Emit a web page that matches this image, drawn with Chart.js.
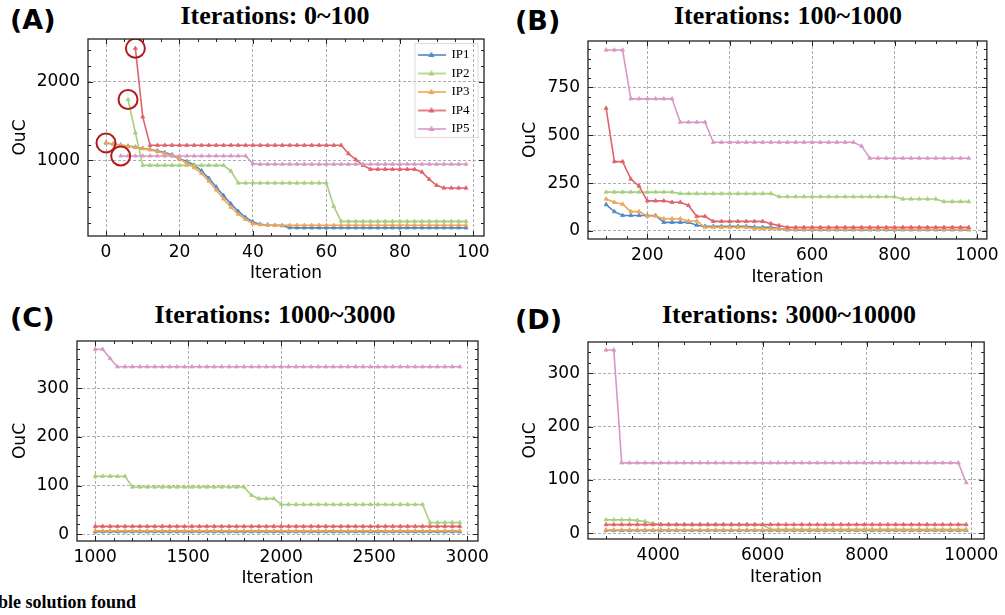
<!doctype html>
<html lang="en">
<head>
<meta charset="utf-8">
<title>OuC over iterations</title>
<script src="https://cdn.jsdelivr.net/npm/chart.js@4.4.0/dist/chart.umd.min.js"></script>
<style>
  body { margin: 0; background: #fff; width: 1005px; height: 615px; position: relative; overflow: hidden; }
  canvas { position: absolute; }
  .lbl { position: absolute; font-family: "DejaVu Sans"; font-weight: bold; font-size: 27px; line-height: 1; }
  .ttl { position: absolute; width: 400px; text-align: center; font-family: "Liberation Serif"; font-weight: bold;
         font-size: 26px; line-height: 1; white-space: nowrap; }
  .note { position: absolute; left: -2px; top: 593px; font-family: "Liberation Serif"; font-weight: bold;
          font-size: 18px; line-height: 1; white-space: nowrap; }
</style>
</head>
<body>
<div class="lbl" style="left:10px;top:6px">(A)</div>
<div class="lbl" style="left:515px;top:7px">(B)</div>
<div class="lbl" style="left:10px;top:304px">(C)</div>
<div class="lbl" style="left:515px;top:306px">(D)</div>
<div class="ttl" style="left:75px;top:3px">Iterations: 0~100</div>
<div class="ttl" style="left:588px;top:3px">Iterations: 100~1000</div>
<div class="ttl" style="left:75px;top:302px">Iterations: 1000~3000</div>
<div class="ttl" style="left:589px;top:302px">Iterations: 3000~10000</div>
<div class="note">ble solution found</div>

<canvas id="chartA" width="500" height="290" style="left:0;top:0"></canvas>
<canvas id="chartB" width="505" height="290" style="left:500px;top:0"></canvas>
<canvas id="chartC" width="500" height="300" style="left:0;top:295px"></canvas>
<canvas id="chartD" width="505" height="300" style="left:500px;top:295px"></canvas>

<script>
// ---- data ----
const names = ['IP1', 'IP2', 'IP3', 'IP4', 'IP5'];

// (A) iterations 0~100
const aIter = [0,2,4,6,8,10,12,14,16,18,20,22,24,26,28,30,32,34,36,38,40,42,44,46,48,
  50,52,54,56,58,60,62,64,66,68,70,72,74,76,78,80,82,84,86,88,90,92,94,96,98];
const aIP1 = [1221,1208,1195,1182,1168,1153,1138,1120,1098,1070,1020,985,940,866,770,660,550,445,350,272,214,186,177,172,168,
  142,140,140,140,140,140,140,140,140,140,140,140,140,140,140,140,140,140,140,140,140,140,140,140,140];
const aIP2 = [null,null,null,1774,1350,935,935,935,935,935,935,935,935,935,935,935,935,862,711,711,711,711,711,711,711,
  711,711,711,711,711,711,413,225,222,222,222,222,222,222,222,222,222,222,222,222,222,222,222,222,222];
const aIP3 = [1221,1206,1192,1178,1163,1148,1132,1112,1088,1058,1015,965,906,832,735,622,508,402,315,248,193,180,174,172,172,
  172,172,172,172,172,172,172,172,172,172,172,172,172,172,172,172,172,172,172,172,172,172,172,172,172];
const aIP4 = [null,null,null,null,2425,1553,1191,1191,1191,1191,1191,1191,1191,1191,1191,1191,1191,1191,1191,1191,1191,1191,1191,1191,1191,
  1191,1191,1191,1191,1191,1191,1191,1191,1085,1008,936,885,885,885,885,885,885,885,851,757,681,647,647,647,647];
const aIP5 = [null,null,1055,1055,1055,1055,1055,1055,1055,1055,1055,1055,1055,1055,1055,1055,1055,1055,1055,1055,957,950,950,950,950,
  950,950,950,950,950,950,950,950,950,950,950,950,950,950,950,950,950,950,950,950,950,950,950,950,950];
// circled starting points
const aMarkX = [0, 4, 6, 8];
const aMarkY = [1221, 1055, 1774, 2425];

// (B) iterations 100~1000
const bIter = [100,120,140,160,180,200,220,240,260,280,300,320,340,360,380,400,420,440,460,480,500,520,
  540,560,580,600,620,640,660,680,700,720,740,760,780,800,820,840,860,880,900,920,940,960,980];
const bIP1 = [138,101,81,81,81,81,81,45,45,45,45,30,24,24,24,24,24,24,21,19,19,12,
  6,6,6,6,6,6,6,6,6,6,6,6,6,6,6,6,6,6,6,6,6,6,6];
const bIP2 = [203,203,203,203,203,203,203,203,203,195,195,195,195,195,195,195,195,195,195,195,195,179,
  179,179,179,179,179,179,179,179,179,179,179,179,179,179,167,167,167,167,167,153,153,153,153];
const bIP3 = [167,150,140,101,101,78,78,64,64,64,52,52,19,19,19,19,19,19,12,12,12,10,
  9,9,9,9,9,9,9,9,9,9,9,9,9,9,9,9,9,9,9,9,9,9,9];
const bIP4 = [641,362,362,271,234,157,157,157,150,150,133,76,76,50,50,50,50,50,50,50,38,28,
  19,19,19,19,19,19,19,19,19,19,19,19,19,19,19,19,19,19,19,19,19,19,19];
const bIP5 = [945,945,945,690,690,690,690,690,690,568,568,568,568,463,463,463,463,463,463,463,463,463,
  463,463,463,463,463,463,463,463,463,443,380,380,380,380,380,380,380,380,380,380,380,380,380];

// (C) iterations 1000~3000
const cIter = [1000,1040,1080,1120,1160,1200,1240,1280,1320,1360,1400,1440,1480,1520,1560,1600,1640,1680,1720,1760,
  1800,1840,1880,1920,1960,2000,2040,2080,2120,2160,2200,2240,2280,2320,2360,2400,2440,2480,2520,2560,
  2600,2640,2680,2720,2760,2800,2840,2880,2920,2960];
const cIP1 = [5,5,5,5,5,5,5,5,5,5,5,5,5,5,5,5,5,5,5,5,5,5,5,5,5,5,5,5,5,5,5,5,5,5,5,5,5,5,5,5,5,5,5,5,5,5,5,5,5,5];
const cIP2 = [119,119,119,119,119,97,97,97,97,97,97,97,97,97,97,97,97,97,97,97,
  97,80,73,73,73,61,61,61,61,61,61,61,61,61,61,61,61,61,61,61,
  61,61,61,61,61,24,24,24,24,24];
const cIP3 = [7,7,7,7,7,7,7,7,7,7,7,7,7,7,7,7,7,7,7,7,7,7,7,7,7,7,7,7,7,7,7,7,7,7,7,7,7,7,7,7,7,7,7,7,7,7,7,7,7,7];
const cIP4 = [16,16,16,16,16,16,16,16,16,16,16,16,16,16,16,16,16,16,16,16,16,16,16,16,16,
  16,16,16,16,16,16,16,16,16,16,16,16,16,16,16,16,16,16,16,16,16,16,16,16,16];
const cIP5 = [380,380,361,344,344,344,344,344,344,344,344,344,344,344,344,344,344,344,344,344,
  344,344,344,344,344,344,344,344,344,344,344,344,344,344,344,344,344,344,344,344,
  344,344,344,344,344,344,344,344,344,344];

// (D) iterations 3000~10000
const dIter = [3000,3150,3300,3450,3600,3750,3900,4050,4200,4350,4500,4650,4800,4950,5100,5250,5400,5550,5700,5850,
  6000,6150,6300,6450,6600,6750,6900,7050,7200,7350,7500,7650,7800,7950,8100,8250,8400,8550,8700,8850,
  9000,9150,9300,9450,9600,9750,9900];
const dIP1 = [5,5,5,5,5,5,5,5,5,5,5,5,5,5,5,5,5,5,5,5,5,5,5,5,5,5,5,5,5,5,5,5,5,5,5,5,5,5,5,5,5,5,5,5,5,5,5];
const dIP2 = [25,25,25,25,24,22,18,16,16,16,16,16,16,16,16,16,16,16,16,16,
  16,7,7,7,7,7,7,7,7,7,7,7,7,7,7,7,7,7,7,7,7,7,7,7,7,7,7];
const dIP3 = [6,6,6,6,6,6,6,6,6,6,6,6,6,6,6,6,6,6,6,6,6,6,6,6,6,6,6,6,6,6,6,6,6,6,6,6,6,6,6,6,6,6,6,6,6,6,6];
const dIP4 = [16,16,16,16,16,16,16,16,16,16,16,16,16,16,16,16,16,16,16,16,16,16,16,16,
  16,16,16,16,16,16,16,16,16,16,16,16,16,16,16,16,16,16,16,16,16,16,16];
const dIP5 = [344,344,132,132,132,132,132,132,132,132,132,132,132,132,132,132,132,132,132,132,
  132,132,132,132,132,132,132,132,132,132,132,132,132,132,132,132,132,132,132,132,
  132,132,132,132,132,132,95];

// tick labels
const aXTicks = [0, 20, 40, 60, 80, 100],      aYTicks = [1000, 2000];
const bXTicks = [200, 400, 600, 800, 1000],    bYTicks = [0, 250, 500, 750];
const cXTicks = [1000, 1500, 2000, 2500, 3000], cYTicks = [0, 100, 200, 300];
const dXTicks = [4000, 6000, 8000, 10000],     dYTicks = [0, 100, 200, 300];

// ---- styling ----
const COLORS = ['#5288c8', '#a7d07e', '#eea653', '#e0636b', '#d898c6'];
const SANS = '"DejaVu Sans"';

function legendIcon(color) {
  const c = document.createElement('canvas');
  c.width = 28; c.height = 10;
  const g = c.getContext('2d');
  g.strokeStyle = color; g.lineWidth = 1.6;
  g.beginPath(); g.moveTo(0, 5); g.lineTo(28, 5); g.stroke();
  g.fillStyle = color;
  g.beginPath(); g.moveTo(14, 1.6); g.lineTo(17.1, 7); g.lineTo(10.9, 7); g.closePath(); g.fill();
  return c;
}

// matplotlib-like frame with inward major/minor ticks on all four sides
const frameTicks = {
  id: 'frameTicks',
  afterLayout(chart, args, opts) {
    if (opts.legendX == null || !chart.legend) return;
    const lg = chart.legend;
    lg.left = opts.legendX; lg.right = lg.left + lg.width;
    lg.top = opts.legendY;
  },
  afterDraw(chart, args, opts) {
    const {ctx, chartArea: a, scales: {x, y}} = chart;
    const minor = (s, step) => {
      const out = [];
      for (let v = Math.ceil(s.min / step) * step; v <= s.max; v += step) out.push(v);
      return out;
    };
    ctx.save();
    ctx.strokeStyle = '#222';
    ctx.lineWidth = 1;
    const xt = (vals, len) => vals.forEach(v => {
      const p = Math.round(x.getPixelForValue(v)) + 0.5;
      ctx.beginPath();
      ctx.moveTo(p, a.bottom); ctx.lineTo(p, a.bottom - len);
      ctx.moveTo(p, a.top); ctx.lineTo(p, a.top + len);
      ctx.stroke();
    });
    const yt = (vals, len) => vals.forEach(v => {
      const p = Math.round(y.getPixelForValue(v)) + 0.5;
      ctx.beginPath();
      ctx.moveTo(a.left, p); ctx.lineTo(a.left + len, p);
      ctx.moveTo(a.right, p); ctx.lineTo(a.right - len, p);
      ctx.stroke();
    });
    xt(minor(x, opts.xMinor), 3);
    yt(minor(y, opts.yMinor), 3);
    xt(x.ticks.map(t => t.value), 5);
    yt(y.ticks.map(t => t.value), 5);
    ctx.lineWidth = 1.3;
    ctx.strokeRect(a.left, a.top, a.right - a.left, a.bottom - a.top);
    if (opts.legendX != null) {
      const lg = chart.legend;
      ctx.strokeStyle = '#dcdcdc';
      ctx.lineWidth = 1;
      ctx.strokeRect(lg.left + 2.5, lg.top + 0.5, 63, 94);
    }
    ctx.restore();
  }
};

function makeChart(id, iter, series, cfg) {
  const datasets = series.map((vals, i) => ({
    label: names[i],
    data: iter.map((it, k) => ({x: it, y: vals[k]})),
    borderColor: COLORS[i],
    backgroundColor: COLORS[i],
    borderWidth: 1.6,
    pointStyle: 'triangle',
    pointRadius: 2.3,
    pointBorderWidth: 0.8,
    pointHoverRadius: 0,
    tension: 0,
    order: 5 - i
  }));
  if (cfg.marks) {
    datasets.push({
      label: 'start',
      data: cfg.marks[0].map((mx, k) => ({x: mx, y: cfg.marks[1][k]})),
      showLine: false,
      pointStyle: 'circle',
      pointRadius: 9.5,
      pointBorderWidth: 2,
      borderColor: '#b01c1c',
      backgroundColor: 'rgba(0,0,0,0)',
      order: 0
    });
  }
  const tickFont = {family: SANS, size: 17};
  const legend = cfg.legend ? {
    display: true,
    position: 'chartArea',
    align: 'start',
    labels: {
      font: {family: '"Liberation Serif"', size: 13},
      color: '#000',
      usePointStyle: true,
      pointStyleWidth: 27,
      padding: 5.5,
      filter: it => it.datasetIndex < 5,
      sort: (p, q) => p.datasetIndex - q.datasetIndex,
      generateLabels: ch => Chart.defaults.plugins.legend.labels.generateLabels(ch)
        .map(it => Object.assign(it, {pointStyle: legendIcon(COLORS[it.datasetIndex] || '#000')}))
    }
  } : {display: false};

  return new Chart(document.getElementById(id), {
    type: 'line',
    data: {datasets},
    plugins: [frameTicks],
    options: {
      responsive: false,
      animation: false,
      devicePixelRatio: 1,
      layout: {padding: {left: 0, top: cfg.top, right: cfg.right, bottom: 0}},
      plugins: {
        legend,
        tooltip: {enabled: false},
        frameTicks: {xMinor: cfg.xMinor, yMinor: cfg.yMinor,
                     legendX: cfg.legend ? 412.5 : null, legendY: 43}
      },
      scales: {
        x: {
          type: 'linear',
          min: cfg.xMin, max: cfg.xMax,
          afterBuildTicks: s => { s.ticks = cfg.xTicks.map(v => ({value: v})); },
          afterFit: s => { s.height = cfg.xHeight; },
          ticks: {font: tickFont, color: '#000', padding: 6, maxRotation: 0, autoSkip: false,
                  callback: v => String(v)},
          grid: {color: '#999', lineWidth: 0.8, drawTicks: false},
          border: {display: false, dash: [3, 2]},
          title: {display: true, text: 'Iteration', color: '#000', font: {family: SANS, size: 17},
                  padding: {top: 0, bottom: cfg.xTitlePad}}
        },
        y: {
          type: 'linear',
          min: cfg.yMin, max: cfg.yMax,
          afterBuildTicks: s => { s.ticks = cfg.yTicks.map(v => ({value: v})); },
          afterFit: s => { s.width = cfg.yWidth; },
          ticks: {font: tickFont, color: '#000', padding: 8, autoSkip: false,
                  callback: v => String(v)},
          grid: {color: '#999', lineWidth: 0.8, drawTicks: false},
          border: {display: false, dash: [3, 2]},
          title: {display: true, text: 'OuC', color: '#000', font: {family: SANS, size: 17},
                  padding: {top: cfg.yTitlePad, bottom: 0}}
        }
      }
    }
  });
}

makeChart('chartA', aIter, [aIP1, aIP2, aIP3, aIP4, aIP5], {
  xMin: -4.9, xMax: 102.9, yMin: 36, yMax: 2544, xTicks: aXTicks, yTicks: aYTicks,
  xMinor: 5, yMinor: 200, top: 39, right: 16, yWidth: 88, xHeight: 54,
  yTitlePad: 10, xTitlePad: 6, legend: true, marks: [aMarkX, aMarkY]
});
makeChart('chartB', bIter, [bIP1, bIP2, bIP3, bIP4, bIP5], {
  xMin: 56, xMax: 1024, yMin: -42, yMax: 992, xTicks: bXTicks, yTicks: bYTicks,
  xMinor: 50, yMinor: 50, top: 41, right: 16, yWidth: 88, xHeight: 51,
  yTitlePad: 20, xTitlePad: 2
});
makeChart('chartC', cIter, [cIP1, cIP2, cIP3, cIP4, cIP5], {
  xMin: 902, xMax: 3058, yMin: -14, yMax: 397, xTicks: cXTicks, yTicks: cYTicks,
  xMinor: 100, yMinor: 20, top: 46, right: 22, yWidth: 77, xHeight: 54,
  yTitlePad: 10, xTitlePad: 6
});
makeChart('chartD', dIter, [dIP1, dIP2, dIP3, dIP4, dIP5], {
  xMin: 2655, xMax: 10245, yMin: -11, yMax: 359, xTicks: dXTicks, yTicks: dYTicks,
  xMinor: 500, yMinor: 20, top: 47, right: 18, yWidth: 88, xHeight: 56,
  yTitlePad: 20, xTitlePad: 7
});
</script>
</body>
</html>
